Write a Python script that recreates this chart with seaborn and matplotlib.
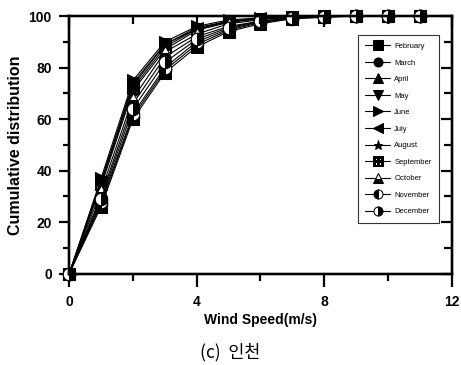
import matplotlib
matplotlib.use("Agg")
import matplotlib.pyplot as plt
from matplotlib.ticker import MultipleLocator
import seaborn as sns
import pandas as pd

sns.set_theme(style="white")
plt.rcParams['font.family'] = ['Liberation Sans', 'Noto Sans CJK KR', 'DejaVu Sans']
plt.rcParams.update({'text.color': 'black', 'axes.labelcolor': 'black',
                     'xtick.color': 'black', 'ytick.color': 'black'})

wind_speed = [0, 1, 2, 3, 4, 5, 6, 7, 8, 9, 10, 11]
months = ["February", "March", "April", "May", "June", "July", "August",
          "September", "October", "November", "December"]
february  = [0, 26, 60, 78, 88, 94.0, 97.0, 99.0, 99.5, 100, 100, 100]
march     = [0, 27, 61, 79, 89, 94.5, 97.5, 99.0, 99.7, 100, 100, 100]
april     = [0, 30, 66, 84, 92, 96.0, 98.0, 99.3, 99.8, 100, 100, 100]
may       = [0, 35, 74, 89, 95, 98.0, 99.0, 99.7, 100, 100, 100, 100]
june      = [0, 37, 75, 90, 96, 98.5, 99.3, 99.8, 100, 100, 100, 100]
july      = [0, 36, 73, 89, 95.5, 98.0, 99.2, 99.7, 100, 100, 100, 100]
august    = [0, 34, 71, 87, 94.5, 97.5, 99.0, 99.6, 100, 100, 100, 100]
september = [0, 35, 72, 88, 95, 97.8, 99.0, 99.6, 100, 100, 100, 100]
october   = [0, 32, 68, 86, 93, 97.0, 98.6, 99.5, 100, 100, 100, 100]
november  = [0, 28, 62, 80, 90, 95.0, 97.8, 99.2, 99.8, 100, 100, 100]
december  = [0, 29, 64, 82, 91, 95.5, 98.0, 99.3, 99.8, 100, 100, 100]
series = [february, march, april, may, june, july, august, september,
          october, november, december]

styles = [
    dict(marker='s'), dict(marker='o'), dict(marker='^'), dict(marker='v'),
    dict(marker='>'), dict(marker='<'), dict(marker='*'),
    dict(marker='$\\boxplus$'), dict(marker='^', fillstyle='bottom'),
    dict(marker='o', fillstyle='left'), dict(marker='o', fillstyle='right'),
]

fig = plt.figure(figsize=(4.61, 3.65), dpi=100)
ax = fig.add_axes([0.150, 0.250, 0.830, 0.706])

for name, vals, st in zip(months, series, styles):
    df = pd.DataFrame({"x": wind_speed, "y": vals})
    sns.lineplot(data=df, x="x", y="y", ax=ax, color="black", linewidth=0.8,
                 markersize=9, markeredgecolor="black", markerfacecolor="black",
                 markerfacecoloralt="white", label=name, clip_on=False, **st)

ax.set_xlim(0, 12)
ax.set_ylim(0, 100)
ax.xaxis.set_major_locator(MultipleLocator(4))
ax.xaxis.set_minor_locator(MultipleLocator(2))
ax.yaxis.set_major_locator(MultipleLocator(20))
ax.yaxis.set_minor_locator(MultipleLocator(10))
for s in ax.spines.values():
    s.set_linewidth(1.6)
    s.set_color("black")
ax.tick_params(axis='both', which='both', direction='out', color='black',
               width=1.6, labelsize=10, labelcolor='black')
ax.tick_params(axis='x', which='major', length=9, pad=6.5)
ax.tick_params(axis='x', which='minor', length=5)
ax.tick_params(axis='y', which='major', length=7.5, pad=5)
ax.tick_params(axis='y', which='minor', length=4)
ax.tick_params(axis='x', which='both', top=False)
ax.tick_params(axis='y', which='both', right=False)

axt = ax.twiny()
axt.set_xlim(0, 12)
axt.xaxis.set_major_locator(MultipleLocator(4))
axt.xaxis.set_minor_locator(MultipleLocator(2))
axt.tick_params(axis='x', which='both', direction='in', width=1.6, labeltop=False,
                color='black')
axt.tick_params(which='major', length=8)
axt.tick_params(which='minor', length=6)
axr = ax.twinx()
axr.set_ylim(0, 100)
axr.yaxis.set_major_locator(MultipleLocator(20))
axr.yaxis.set_minor_locator(MultipleLocator(10))
axr.tick_params(axis='y', which='both', direction='in', width=1.6, labelright=False,
                color='black')
axr.tick_params(which='major', length=8)
axr.tick_params(which='minor', length=6)
for a in (axt, axr):
    for s in a.spines.values():
        s.set_linewidth(1.6)
        s.set_color("black")

for lab in ax.get_xticklabels() + ax.get_yticklabels():
    lab.set_fontweight('bold')
ax.set_xlabel("Wind Speed(m/s)", fontsize=10, fontweight='bold', labelpad=3)
ax.set_ylabel("Cumulative distribution", fontsize=11.5, fontweight='bold', labelpad=4)

leg = ax.legend(loc='upper left', bbox_to_anchor=(0.754, 0.926), fontsize=5.5,
                frameon=True, fancybox=False, edgecolor='black', handlelength=3.2,
                labelspacing=1.2, borderpad=1.0, handletextpad=0.6, borderaxespad=0)
leg.get_frame().set_linewidth(0.8)
for h in leg.legend_handles:
    h.set_markersize(6.5)
    h.set_linewidth(0.8)

fig.text(0.5, 0.035, "(c)  인천", ha='center', va='center', fontsize=12.5,
         family=['Noto Sans CJK KR', 'DejaVu Sans'])

fig.savefig("out.png", dpi=100)
